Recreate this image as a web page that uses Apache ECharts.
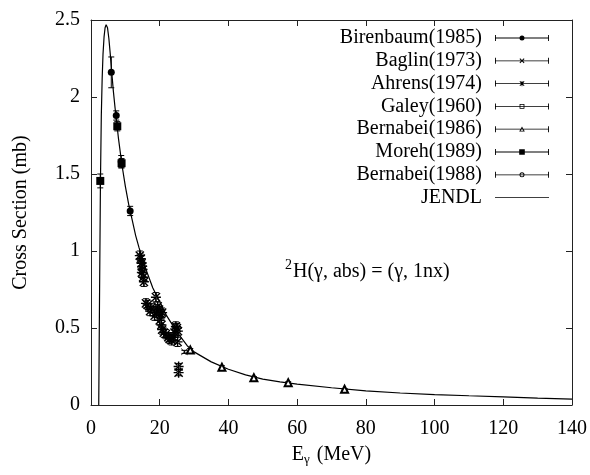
<!DOCTYPE html>
<html>
<head>
<meta charset="utf-8">
<script src="https://cdn.jsdelivr.net/npm/echarts@6/dist/echarts.min.js"></script>
<style>
html, body { margin: 0; padding: 0; background: #fff; }
#chart { width: 590px; height: 475px; }
</style>
</head>
<body>
<div id="chart"></div>
<script>
// [E (MeV), sigma (mb), error]
const birenbaum = [[5.9, 2.16, 0.10], [7.35, 1.88, 0.03], [8.8, 1.58, 0.04], [11.4, 1.26, 0.03]];
const baglin = [[27.2, 0.345, 0.01]];
const ahrens = [
  [14.2, 0.97, 0.03], [14.5, 0.95, 0.03], [14.7, 0.92, 0.03], [14.9, 0.90, 0.03],
  [15.0, 0.88, 0.03], [14.8, 0.86, 0.03], [15.2, 0.83, 0.03], [15.4, 0.80, 0.03],
  [16.0, 0.66, 0.03], [16.5, 0.65, 0.03], [17.4, 0.63, 0.03], [17.2, 0.61, 0.03],
  [18.9, 0.70, 0.03], [19.4, 0.64, 0.03], [19.8, 0.62, 0.03], [19.0, 0.60, 0.03],
  [18.5, 0.58, 0.03], [20.0, 0.55, 0.03], [20.4, 0.59, 0.03], [20.7, 0.60, 0.03],
  [20.5, 0.52, 0.03], [20.7, 0.49, 0.03], [21.2, 0.47, 0.03], [21.8, 0.46, 0.03],
  [22.5, 0.44, 0.03], [22.9, 0.43, 0.03], [23.5, 0.42, 0.03], [24.0, 0.44, 0.03],
  [24.3, 0.47, 0.03], [24.7, 0.51, 0.03], [25.0, 0.50, 0.03], [25.3, 0.48, 0.03],
  [25.2, 0.41, 0.03], [25.5, 0.25, 0.02], [25.5, 0.21, 0.02]
];
const galey = [];
const bernabei86 = [[28.9, 0.357, 0.01], [38.1, 0.245, 0.01], [47.4, 0.177, 0.008], [57.4, 0.145, 0.006], [73.8, 0.102, 0.005]];
const moreh = [[2.7, 1.455, 0.045], [7.65, 1.81, 0.03], [8.9, 1.57, 0.03]];
const bernabei88 = [];

const jendlE = [2.25, 2.5, 2.75, 3.0, 3.25, 3.5, 3.8, 4.1, 4.4, 4.8, 5.2, 5.6, 6.0, 6.5, 7.0, 7.5, 8.0, 9.0,
  10, 11, 12, 13, 14, 15, 16, 18, 20, 22, 25, 28, 30, 35, 40, 45, 50, 55, 60, 70, 80, 90, 100, 110, 120, 130, 140];
const jendlS = [0, 0.75, 1.45, 1.88, 2.12, 2.28, 2.39, 2.45, 2.47, 2.45, 2.38, 2.28, 2.17, 2.04, 1.93, 1.83, 1.73, 1.56,
  1.42, 1.30, 1.20, 1.10, 1.02, 0.95, 0.88, 0.76, 0.67, 0.58, 0.475, 0.385, 0.345, 0.28, 0.232, 0.196, 0.168, 0.150, 0.136, 0.112, 0.092, 0.078, 0.068, 0.060, 0.053, 0.045, 0.038];

const names = ['Birenbaum(1985)', 'Baglin(1973)', 'Ahrens(1974)', 'Galey(1960)', 'Bernabei(1986)', 'Moreh(1989)', 'Bernabei(1988)', 'JENDL'];

const FONT = 'Liberation Serif';

// legend icons: line with error caps and the point marker in the middle
const bar = 'M0 0 L0.9 0 L0.9 6 L0 6 Z M53.1 0 L54 0 L54 6 L53.1 6 Z M0 2.6 L54 2.6 L54 3.4 L0 3.4 Z ';
const cross = 'M24.5 1.2 L25.2 0.5 L29.5 4.8 L28.8 5.5 Z M28.8 0.5 L29.5 1.2 L25.2 5.5 L24.5 4.8 Z ';
const icons = [
  'path://' + bar + 'M24.5 3 A2.5 2.5 0 1 1 29.5 3 A2.5 2.5 0 1 1 24.5 3 Z',
  'path://' + bar + cross,
  'path://' + bar + cross + 'M26.6 0.3 L27.4 0.3 L27.4 5.7 L26.6 5.7 Z',
  'path://' + bar + 'M24.6 0.6 L29.4 0.6 L29.4 5.4 L24.6 5.4 Z M25.4 1.4 L25.4 4.6 L28.6 4.6 L28.6 1.4 Z',
  'path://' + bar + 'M27 0.3 L29.8 5.4 L24.2 5.4 Z M27 2 L25.6 4.6 L28.4 4.6 Z',
  'path://' + bar + 'M24.2 0.2 L29.8 0.2 L29.8 5.8 L24.2 5.8 Z',
  'path://' + bar + 'M24.5 3 A2.5 2.5 0 1 1 29.5 3 A2.5 2.5 0 1 1 24.5 3 Z M25.4 3 A1.6 1.6 0 1 0 28.6 3 A1.6 1.6 0 1 0 25.4 3 Z',
  'path://M0 2.6 L54 2.6 L54 3.4 L0 3.4 Z'
];

const asterisk = 'path://M4.3 0 L5.7 0 L5.7 10 L4.3 10 Z M0 4.3 L10 4.3 L10 5.7 L0 5.7 Z M1.4 0.4 L0.4 1.4 L8.6 9.6 L9.6 8.6 Z M8.6 0.4 L9.6 1.4 L1.4 9.6 L0.4 8.6 Z';
const xmark = 'path://M1.2 0.6 L0.6 1.2 L8.8 9.4 L9.4 8.8 Z M8.8 0.6 L9.4 1.2 L1.2 9.4 L0.6 8.8 Z';

function errorBars(points) {
  return {
    type: 'custom',
    silent: true,
    z: 3,
    data: points.map(p => [p[0], p[1] - p[2], p[1] + p[2]]),
    encode: { x: 0, y: [1, 2] },
    renderItem: function (params, api) {
      const lo = api.coord([api.value(0), api.value(1)]);
      const hi = api.coord([api.value(0), api.value(2)]);
      const w = 3;
      const st = { stroke: '#000', lineWidth: 1 };
      return {
        type: 'group',
        children: [
          { type: 'line', shape: { x1: lo[0], y1: lo[1], x2: hi[0], y2: hi[1] }, style: st },
          { type: 'line', shape: { x1: lo[0] - w, y1: lo[1], x2: lo[0] + w, y2: lo[1] }, style: st },
          { type: 'line', shape: { x1: hi[0] - w, y1: hi[1], x2: hi[0] + w, y2: hi[1] }, style: st }
        ]
      };
    }
  };
}

function points(name, data, symbol, size, fill, border) {
  return {
    name: name,
    type: 'scatter',
    data: data.map(p => [p[0], p[1]]),
    symbol: symbol,
    symbolSize: size,
    z: 4,
    itemStyle: { color: fill || '#000', borderColor: '#000', borderWidth: fill ? (border || 1.6) : 0, opacity: 1 }
  };
}

const chart = echarts.init(document.getElementById('chart'));

const axisCommon = {
  type: 'value',
  splitLine: { show: false },
  axisLine: { show: true, onZero: false, lineStyle: { color: '#222', width: 1 } },
  axisTick: { show: true, inside: true, length: 6, lineStyle: { color: '#222' } }
};

chart.setOption({
  animation: false,
  backgroundColor: '#fff',
  textStyle: { fontFamily: FONT },
  grid: { left: 91, right: 16, top: 20, bottom: 70 },
  xAxis: [
    Object.assign({}, axisCommon, {
      min: 0, max: 140, interval: 20,
      name: '{m|E}{sub|γ}{m| (MeV)}',
      nameLocation: 'middle',
      nameGap: 38,
      nameTextStyle: {
        fontFamily: FONT, fontSize: 20, color: '#000',
        rich: {
          m: { fontFamily: FONT, fontSize: 20, color: '#000' },
          sub: { fontFamily: FONT, fontSize: 13, color: '#000', padding: [10, 2, 0, 0] }
        }
      },
      axisLabel: { fontFamily: FONT, fontSize: 20, color: '#000', margin: 14 }
    }),
    Object.assign({}, axisCommon, {
      min: 0, max: 140, interval: 20, position: 'top',
      axisLabel: { show: false }
    })
  ],
  yAxis: [
    Object.assign({}, axisCommon, {
      min: 0, max: 2.5, interval: 0.5,
      name: 'Cross Section (mb)',
      nameLocation: 'middle',
      nameGap: 60,
      nameTextStyle: { fontFamily: FONT, fontSize: 20, color: '#000' },
      axisLabel: { fontFamily: FONT, fontSize: 20, color: '#000', margin: 11 }
    }),
    Object.assign({}, axisCommon, {
      min: 0, max: 2.5, interval: 0.5, position: 'right',
      axisLabel: { show: false }
    })
  ],
  legend: {
    orient: 'vertical',
    align: 'right',
    right: 41,
    top: 28,
    padding: 0,
    itemGap: 2.8,
    itemWidth: 54,
    itemHeight: 6,
    selectedMode: false,
    itemStyle: { color: '#000', borderWidth: 0 },
    textStyle: { fontFamily: FONT, fontSize: 20, color: '#000', lineHeight: 20, padding: [0, 8, 0, 0] },
    data: names.map((n, i) => ({ name: n, icon: icons[i] }))
  },
  graphic: [
    {
      type: 'text', left: 285, top: 258,
      style: { text: '2', fontFamily: FONT, fontSize: 14, fill: '#000' }
    },
    {
      type: 'text', left: 293, top: 262,
      style: { text: 'H(γ, abs) = (γ, 1nx)', fontFamily: FONT, fontSize: 20, fill: '#000' }
    }
  ],
  series: [
    {
      name: 'JENDL',
      type: 'line',
      data: jendlE.map((e, i) => [e, jendlS[i]]),
      showSymbol: false,
      symbol: 'none',
      z: 2,
      lineStyle: { color: '#000', width: 1.2 },
      itemStyle: { color: '#000' }
    },
    errorBars(birenbaum),
    errorBars(baglin),
    errorBars(ahrens),
    errorBars(bernabei86),
    errorBars(moreh),
    points('Birenbaum(1985)', birenbaum, 'circle', 7),
    points('Baglin(1973)', baglin, xmark, 7),
    points('Ahrens(1974)', ahrens, asterisk, 10),
    points('Galey(1960)', galey, 'rect', 6, '#fff'),
    points('Bernabei(1986)', bernabei86, 'triangle', 7, '#fff', 2),
    points('Moreh(1989)', moreh, 'rect', 8),
    points('Bernabei(1988)', bernabei88, 'circle', 6, '#fff')
  ]
});

window.addEventListener('resize', () => chart.resize());
</script>
</body>
</html>
